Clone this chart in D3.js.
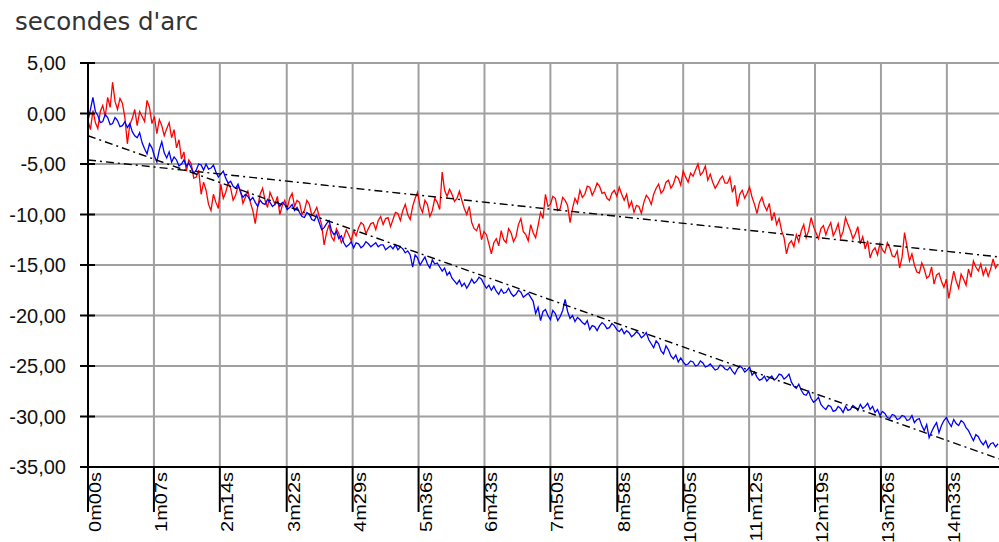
<!DOCTYPE html>
<html>
<head>
<meta charset="utf-8">
<script src="https://cdn.jsdelivr.net/npm/d3@7"></script>
<style>
  body { margin: 0; background: #fff; }
  svg { display: block; }
</style>
</head>
<body>
<div id="chart"></div>
<script>
// seconds between two samples
const sampleStep = 2.5;

const tickSeconds = [0, 67, 134, 202, 269, 336, 403, 470, 538, 605, 672, 739, 806, 873];
const tickLabels = ['0m00s', '1m07s', '2m14s', '3m22s', '4m29s', '5m36s', '6m43s',
  '7m50s', '8m58s', '10m05s', '11m12s', '12m19s', '13m26s', '14m33s'];
const yTicks = [5, 0, -5, -10, -15, -20, -25, -30, -35];

const redValues = [
  -0.7, -1.6, 0.3, -0.9, -1.5, 0.2, 0.8, -0.3, 1.6, 0.6,
  3.1, 1.2, 0.4, 1.5, 1.0, -0.4, -3.0, -1.1, -0.5, 0.4,
  -1.2, 0.2, -0.3, -0.8, 1.3, 0.6, -1.0, -0.3, -2.0, -0.6,
  -1.2, -2.2, -1.5, -0.9, -2.4, -1.6, -3.4, -2.6, -4.5, -3.8,
  -5.7, -4.6, -5.0, -6.4, -6.3, -5.6, -8.0, -6.8, -7.6, -9.0,
  -9.6, -8.0, -8.8, -9.4, -7.0, -8.4, -7.8, -6.9, -7.4, -8.6,
  -8.1, -7.2, -7.6, -8.9, -8.3, -7.7, -8.8, -9.6, -10.9, -9.2,
  -8.0, -7.4, -8.6, -9.3, -7.8, -8.4, -9.0, -8.2, -10.0, -9.1,
  -8.6, -9.4, -8.4, -7.9, -9.2, -8.6, -8.8, -10.0, -9.6, -8.6,
  -9.0, -10.1, -9.8, -9.3, -10.2, -11.0, -13.0, -11.8, -11.0, -12.2,
  -12.6, -11.4, -11.9, -12.8, -12.3, -11.5, -12.0, -12.6, -11.6, -12.1,
  -11.3, -10.8, -11.0, -11.9, -11.4, -10.9, -10.8, -11.5, -10.6, -10.2,
  -11.0, -10.4, -10.3, -11.2, -10.5, -9.8, -9.9, -10.6, -9.6, -9.0,
  -10.0, -10.5, -9.2, -8.4, -7.8, -9.2, -9.8, -8.6, -9.0, -10.2,
  -9.6, -8.4, -8.8, -9.5, -5.8, -7.6, -8.2, -7.5, -8.0, -8.7,
  -8.4, -7.7, -8.6, -9.4, -10.0, -9.2, -10.8, -11.4, -11.6, -10.9,
  -12.5, -11.7, -12.0, -12.9, -13.9, -12.8, -12.4, -13.1, -11.6, -12.5,
  -12.8, -11.4, -11.8, -12.7, -12.2, -11.0, -10.4, -11.7, -12.0, -12.6,
  -11.0, -11.8, -12.3, -11.1, -9.8, -10.4, -8.0, -9.2, -9.0, -8.2,
  -8.4, -9.6, -9.4, -8.3, -8.6, -9.1, -10.8, -9.4, -8.4, -8.9,
  -7.6, -8.3, -8.0, -7.2, -7.3, -8.1, -7.6, -6.9, -7.2, -7.9,
  -7.8, -8.4, -8.6, -7.9, -7.6, -8.2, -7.3, -8.0, -8.6, -8.0,
  -9.3, -8.7, -9.8, -9.1, -9.2, -9.9, -8.8, -8.1, -8.4, -9.0,
  -8.0, -7.4, -7.0, -7.9, -7.6, -6.8, -6.6, -7.4, -7.0, -6.2,
  -6.4, -7.1, -5.7, -6.3, -6.8, -5.9, -6.2, -5.6, -5.0, -6.1,
  -5.8, -5.2, -6.6, -6.0, -6.8, -7.4, -7.0, -6.5, -6.2, -6.9,
  -6.9, -6.3, -7.8, -7.1, -9.2, -8.0, -7.6, -8.4, -7.9, -7.3,
  -8.3, -9.0, -9.9, -8.8, -8.3, -9.1, -9.6, -8.9, -10.6, -9.8,
  -11.0, -10.4, -11.6, -12.3, -13.9, -12.9, -12.6, -13.2, -12.0, -12.7,
  -11.6, -11.0, -12.3, -11.6, -10.3, -11.2, -11.8, -12.4, -11.4, -11.1,
  -12.0, -11.3, -10.8, -12.1, -11.6, -10.9, -12.3, -11.7, -10.3, -11.0,
  -11.6, -12.4, -11.9, -11.2, -12.9, -12.2, -13.4, -12.6, -14.3, -13.6,
  -13.3, -14.0, -12.9, -13.5, -13.8, -12.8, -13.3, -14.1, -14.2, -13.6,
  -15.3, -14.2, -11.8, -13.2, -14.6, -13.9, -15.0, -15.7, -15.8, -14.8,
  -15.4, -16.3, -16.1, -15.2, -16.9, -16.0, -15.8, -16.6, -17.2, -16.4,
  -18.3, -16.9, -15.6, -16.6, -17.3, -15.9, -16.4, -17.0, -15.4, -16.2,
  -14.6, -15.2, -15.6, -14.9, -16.0, -15.3, -16.1, -15.4, -14.4, -15.3,
  -14.9
];

const blueValues = [
  -0.7, 0.4, 1.6, 0.2, -0.2, -0.9, -0.8, -0.1, -0.4, -1.1,
  -1.0, -0.4, -0.7, -1.3, -1.2, -0.8, -1.4, -1.0, -1.8, -2.2,
  -2.4, -1.9, -2.9, -3.5, -4.0, -3.0, -3.4, -4.2, -4.8, -3.6,
  -2.8, -3.9, -4.4, -3.8, -4.8, -4.3, -4.6, -5.2, -5.0, -4.6,
  -5.2, -4.9, -5.4, -5.9, -5.6, -5.0, -5.1, -5.6, -5.0, -5.5,
  -5.4, -5.1, -5.8, -6.3, -6.0, -5.7, -6.4, -6.9, -6.7, -7.2,
  -7.4, -7.0, -7.8, -8.3, -8.0, -8.2, -8.6, -8.3, -8.8, -9.2,
  -8.6, -8.9, -9.0, -8.5, -8.8, -9.2, -9.0, -8.7, -9.2, -8.8,
  -9.0, -9.5, -9.3, -9.0, -9.6, -9.3, -9.8, -10.2, -10.3, -9.8,
  -10.0, -10.5, -10.6, -10.1, -10.8, -11.5, -11.3, -10.9, -10.6, -11.6,
  -12.0, -11.7, -12.4, -12.1, -12.8, -13.2, -13.0, -12.7, -13.3, -12.8,
  -12.9, -13.3, -13.1, -12.7, -12.9, -13.2, -13.0, -12.8, -13.2, -13.0,
  -13.0, -13.5, -13.3, -13.1, -13.4, -13.0, -13.5, -13.2, -13.4, -13.8,
  -13.6, -14.0, -15.2, -14.0, -14.3, -15.0, -14.6, -14.2, -14.9, -15.3,
  -14.5, -14.9, -14.8, -15.2, -15.6, -15.3, -16.0, -15.7, -16.3, -16.6,
  -16.9, -16.5, -17.1, -16.8, -17.3, -16.9, -16.4, -16.8, -16.6, -16.2,
  -16.4, -16.9, -17.3, -17.0, -17.5, -17.1, -17.6, -17.9, -17.4, -17.8,
  -17.7, -17.3, -17.8, -18.1, -17.9, -17.5, -17.7, -18.2, -18.0, -17.8,
  -18.2, -18.6, -19.8, -19.2, -20.5, -19.6, -19.4, -20.0, -20.4, -19.5,
  -19.8, -20.5, -20.1, -19.5, -18.4, -19.6, -20.3, -20.0, -20.6, -20.2,
  -20.4, -20.7, -20.9, -20.5, -21.4, -21.0, -21.1, -21.5, -21.0, -20.7,
  -20.9, -21.3, -21.2, -20.8, -21.0, -21.4, -21.6, -21.3, -21.8, -21.5,
  -21.7, -22.1, -21.9, -21.6, -21.8, -22.2, -22.0, -21.7, -22.4, -22.8,
  -23.2, -22.5, -22.8, -23.5, -23.8, -23.0, -23.4, -24.0, -24.3, -23.9,
  -24.6, -24.2, -24.6, -24.9, -24.8, -24.5, -24.6, -25.0, -24.9, -24.5,
  -24.7, -25.1, -25.0, -24.8, -25.1, -25.4, -25.3, -24.9, -25.0, -25.3,
  -25.4, -25.1, -25.5, -25.8, -25.3, -25.0, -25.2, -25.6, -25.4, -25.1,
  -25.9, -25.6, -26.1, -26.4, -26.3, -26.0, -26.5, -26.2, -26.0, -26.4,
  -26.2, -25.8, -25.9, -26.3, -26.1, -25.8, -26.6, -27.0, -27.2, -26.8,
  -27.4, -27.8, -27.9, -27.5, -28.2, -28.6, -28.4, -28.1, -28.8, -29.1,
  -29.3, -28.9, -29.0, -29.5, -29.4, -29.0, -29.2, -29.6, -29.0, -29.4,
  -29.3, -28.9, -29.1, -29.4, -28.8, -29.2, -29.0, -28.7, -29.3, -29.0,
  -29.6, -29.3, -29.9, -29.5, -29.7, -30.1, -30.2, -29.8, -29.9, -30.3,
  -30.2, -29.9, -30.0, -30.4, -30.3, -29.9, -30.6, -30.3, -30.2, -30.9,
  -31.4, -30.8, -32.1, -31.5, -31.0, -30.6, -31.6, -30.9, -30.4, -30.1,
  -30.6, -31.0, -30.3, -30.7, -30.9, -30.4, -30.6, -31.1, -31.4, -31.9,
  -32.4, -31.8, -32.0, -32.5, -32.8, -32.4, -33.1, -32.7, -32.6, -33.0,
  -32.7
];

// trend lines: value at start, value at end of the axis
const redTrend = [-4.6, -14.2];
const blueTrend = [-2.2, -34.2];
const trendSeconds = [0, 926];

const width = 999, height = 542;
const margin = { left: 88, right: 999, top: 63, bottom: 467 };

const svg = d3.select('#chart').append('svg')
  .attr('width', width)
  .attr('height', height)
  .style('font-family', '"Liberation Sans", Arial, sans-serif');

const x = d3.scaleLinear().domain([0, 926]).range([margin.left, margin.right]);
const y = d3.scaleLinear().domain([-35, 5]).range([margin.bottom, margin.top]);

svg.append('text')
  .attr('x', 15)
  .attr('y', 30)
  .style('font-family', '"DejaVu Sans", sans-serif')
  .style('font-size', '24.5px')
  .style('fill', '#333')
  .text("secondes d'arc");

// grid
svg.append('g').selectAll('line')
  .data(yTicks.filter(d => d > -35))
  .enter().append('line')
  .attr('x1', margin.left).attr('x2', margin.right)
  .attr('y1', d => y(d)).attr('y2', d => y(d))
  .attr('stroke', '#a0a0a0')
  .attr('stroke-width', 2);

svg.append('g').selectAll('line')
  .data(tickSeconds.slice(1))
  .enter().append('line')
  .attr('x1', d => x(d)).attr('x2', d => x(d))
  .attr('y1', margin.top).attr('y2', margin.bottom)
  .attr('stroke', '#a0a0a0')
  .attr('stroke-width', 2);

// series
const line = d3.line()
  .x((d, i) => x(i * sampleStep))
  .y(d => y(d));

svg.append('path')
  .datum(redValues)
  .attr('d', line)
  .attr('fill', 'none')
  .attr('stroke', '#ff0000')
  .attr('stroke-width', 1.3);

svg.append('path')
  .datum(blueValues)
  .attr('d', line)
  .attr('fill', 'none')
  .attr('stroke', '#0000ff')
  .attr('stroke-width', 1.3);

const trendLine = d3.line()
  .x((d, i) => x(trendSeconds[i]))
  .y(d => y(d));

[redTrend, blueTrend].forEach(t => {
  svg.append('path')
    .datum(t)
    .attr('d', trendLine)
    .attr('fill', 'none')
    .attr('stroke', '#000')
    .attr('stroke-width', 1.4)
    .attr('stroke-dasharray', '8,4,2,4');
});

// axes
svg.append('line')
  .attr('x1', margin.left).attr('x2', margin.left)
  .attr('y1', margin.top).attr('y2', margin.bottom)
  .attr('stroke', '#000').attr('stroke-width', 2);
svg.append('line')
  .attr('x1', margin.left).attr('x2', margin.right)
  .attr('y1', margin.bottom).attr('y2', margin.bottom)
  .attr('stroke', '#000').attr('stroke-width', 2);

svg.append('g').selectAll('line')
  .data(yTicks)
  .enter().append('line')
  .attr('x1', 80).attr('x2', 95)
  .attr('y1', d => y(d)).attr('y2', d => y(d))
  .attr('stroke', '#000').attr('stroke-width', 2);

svg.append('g').selectAll('text')
  .data(yTicks)
  .enter().append('text')
  .attr('x', 66)
  .attr('y', d => y(d))
  .attr('dy', '0.35em')
  .attr('text-anchor', 'end')
  .style('font-size', '20px')
  .style('fill', '#111')
  .text(d => d3.format('.2f')(d).replace('.', ',').replace('−', '-'));

svg.append('g').selectAll('line')
  .data(tickSeconds)
  .enter().append('line')
  .attr('x1', d => x(d)).attr('x2', d => x(d))
  .attr('y1', margin.bottom).attr('y2', 512)
  .attr('stroke', '#000').attr('stroke-width', 2);

svg.append('g').selectAll('text')
  .data(tickSeconds)
  .enter().append('text')
  .attr('transform', d => 'translate(' + (x(d) + 13) + ',472) rotate(-90) scale(1,0.85)')
  .attr('text-anchor', 'end')
  .style('font-size', '20px')
  .style('fill', '#000')
  .text((d, i) => tickLabels[i]);
</script>
</body>
</html>
